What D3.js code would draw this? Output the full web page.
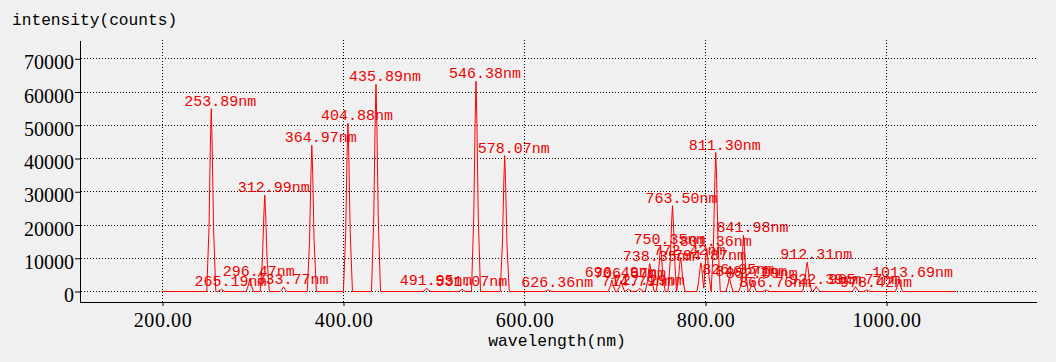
<!DOCTYPE html>
<html>
<head>
<meta charset="utf-8">
<script src="https://cdn.jsdelivr.net/npm/d3@7"></script>
<style>
  html, body { margin: 0; padding: 0; background: #f0f0f0; }
  svg { display: block; }
</style>
</head>
<body>
<div id="chart"></div>
<script>
// Peak labels
const peakNm = [253.89, 265.19, 296.47, 312.99, 333.77, 364.97, 404.88, 435.89, 491.95, 531.07,
  546.38, 578.07, 626.36, 696.49, 706.67, 714.79, 727.29, 738.35, 750.35, 763.50, 772.42,
  794.87, 801.36, 811.30, 826.35, 840.71, 841.98, 852.09, 866.76, 912.31, 922.39, 965.77,
  978.42, 1013.69];
const peakCounts = [55000, 700, 3900, 29000, 1400, 44000, 50600, 62300, 1000, 700,
  63300, 40900, 500, 3500, 3300, 800, 1000, 8400, 13400, 25800, 10200,
  8600, 12900, 41800, 4500, 3800, 16900, 3300, 500, 8800, 1500, 1500,
  500, 3600];
const peakLabels = peakNm.map(d => d.toFixed(2) + "nm");

// Spectrum trace [wavelength nm, counts]
const spectrum = [
  [200, 0], [248.9, 0], [251.4, 19250], [252.9, 44000], [253.89, 55000], [254.9, 44000], [256.4, 19250], [258.9, 0],
  [261.2, 0], [263.7, 350], [265.19, 700], [266.7, 350], [269.2, 0],
  [292.5, 0], [295, 1950], [296.47, 3900], [298, 1950], [300.5, 0],
  [308, 0], [310.5, 10150], [312, 23200], [312.99, 29000], [314, 23200], [315.5, 10150], [318, 0],
  [329.8, 0], [332.3, 700], [333.77, 1400], [335.3, 700], [337.8, 0],
  [360, 0], [362.5, 15400], [364, 35200], [364.97, 44000], [366, 35200], [367.5, 15400], [370, 0],
  [399.9, 0], [402.4, 17700], [403.9, 40500], [404.88, 50600], [405.9, 40500], [407.4, 17700], [409.9, 0],
  [430.9, 0], [433.4, 21800], [434.9, 49800], [435.89, 62300], [436.9, 49800], [438.4, 21800], [440.9, 0],
  [488, 0], [490.5, 500], [491.95, 1000], [493.5, 500], [496, 0],
  [527, 0], [529.5, 350], [531.07, 700], [532.6, 350], [535, 0],
  [541.4, 0], [543.9, 22150], [545.4, 50600], [546.38, 63300], [547.4, 50600], [548.9, 22150], [551.4, 0],
  [573.1, 0], [575.6, 14300], [577.1, 32700], [578.07, 40900], [579.1, 32700], [580.6, 14300], [583.1, 0],
  [622.4, 0], [624.9, 250], [626.36, 500], [627.9, 250], [630.4, 0],
  [692.5, 0], [695, 1750], [696.49, 3500], [698, 1750], [700.5, 0],
  [702.7, 0], [705.2, 1650], [706.67, 3300], [708.2, 1650], [710.7, 0],
  [713.3, 400], [714.79, 800], [716.3, 400], [718.8, 0],
  [723.3, 0], [725.8, 500], [727.29, 1000], [728.8, 500], [731.3, 0],
  [733.4, 0], [735.9, 2950], [737.4, 6700], [738.35, 8400], [739.4, 6700], [740.9, 2950], [743.4, 0],
  [745.4, 0], [747.9, 4700], [749.4, 10700], [750.35, 13400], [751.4, 10700], [752.9, 4700], [755.4, 0],
  [758.5, 0], [761, 9000], [762.5, 20600], [763.5, 25800], [764.5, 20600], [766, 9000], [768, 0],
  [770, 3570], [771.4, 8160], [772.42, 10200], [773.4, 8160], [774.9, 3570], [777.4, 0],
  [790.4, 0], [792.4, 3000], [793.9, 6900], [794.87, 8600], [795.9, 6900], [797.2, 3000], [798.1, 1000],
  [798.9, 4500], [800.4, 10300], [801.36, 12900], [802.4, 10300], [803.9, 4500], [806.2, 0],
  [808.8, 14600], [810.3, 33400], [811.3, 41800], [812.3, 33400], [813.8, 14600], [816.3, 0],
  [822.4, 0], [824.9, 2250], [826.35, 4500], [827.9, 2250], [830.4, 0],
  [836.8, 0], [839.2, 1900], [840.71, 3800], [841.2, 13500], [841.98, 16900], [843, 13500], [844.5, 5900], [847, 0],
  [848.1, 0], [850.6, 1650], [852.09, 3300], [853.6, 1650], [856.1, 0],
  [862.8, 0], [865.3, 250], [866.76, 500], [868.3, 250], [870.8, 0],
  [907.3, 0], [909.8, 3080], [911.3, 7040], [912.31, 8800], [913.3, 7040], [914.8, 3080], [917.3, 0],
  [918.4, 0], [920.9, 750], [922.39, 1500], [923.9, 750], [926.4, 0],
  [961.8, 0], [964.3, 750], [965.77, 1500], [967.3, 750], [969.8, 0],
  [974.4, 0], [976.9, 250], [978.42, 500], [979.9, 250], [982.4, 0],
  [1009.7, 0], [1012.2, 1800], [1013.69, 3600], [1015.2, 1800], [1017.7, 0],
  [1077, 0]
];

const xTicks = [200, 400, 600, 800, 1000];
const yTicks = [0, 10000, 20000, 30000, 40000, 50000, 60000, 70000];

const width = 1056;
const height = 362;

const x = d3.scaleLinear().domain([109.4, 1165.7]).range([80.5, 1036.5]);
const y = d3.scaleLinear().domain([-3308, 75500]).range([302.5, 40.5]);

const svg = d3.select("#chart")
  .append("svg")
  .attr("width", width)
  .attr("height", height)
  .style("background", "#f0f0f0");

// dotted grid
const grid = svg.append("g")
  .attr("stroke", "#000")
  .attr("stroke-width", 1)
  .attr("stroke-dasharray", "1,2");

grid.selectAll(".hg")
  .data(yTicks)
  .enter()
  .append("line")
  .attr("x1", 81)
  .attr("x2", 1036)
  .attr("y1", d => Math.floor(y(d)) + 0.5)
  .attr("y2", d => Math.floor(y(d)) + 0.5);

grid.selectAll(".vg")
  .data(xTicks)
  .enter()
  .append("line")
  .attr("x1", d => Math.floor(x(d)) + 0.5)
  .attr("x2", d => Math.floor(x(d)) + 0.5)
  .attr("y1", 40)
  .attr("y2", 302);

// axes
const xAxis = svg.append("g")
  .attr("transform", "translate(0,302)")
  .call(d3.axisBottom(x).tickValues(xTicks).tickFormat(d3.format(".2f")).tickSize(4).tickSizeOuter(0));

xAxis.selectAll("text")
  .attr("y", 25)
  .attr("dy", null)
  .style("font-family", "'Liberation Serif', serif")
  .style("font-size", "20px")
  .style("letter-spacing", "0.6px")
  .attr("fill", "#000");

const yAxis = svg.append("g")
  .attr("transform", "translate(80,0)")
  .call(d3.axisLeft(y).tickValues(yTicks).tickFormat(d3.format("d")).tickSize(5).tickSizeOuter(0));

yAxis.selectAll("text")
  .attr("x", -6)
  .attr("dy", null)
  .attr("y", 10)
  .style("font-family", "'Liberation Serif', serif")
  .style("font-size", "20px")
  .attr("fill", "#000");

svg.selectAll(".domain, .tick line").attr("stroke", "#000");

// spectrum
const line = d3.line()
  .x(d => x(d[0]))
  .y(d => y(d[1]));

svg.append("path")
  .datum(spectrum)
  .attr("fill", "none")
  .attr("stroke", "#ff0000")
  .attr("stroke-width", 1)
  .attr("d", line);

// peak labels
svg.selectAll(".peak")
  .data(peakNm)
  .enter()
  .append("text")
  .attr("class", "peak")
  .attr("x", d => x(d) - 27)
  .attr("y", (d, i) => y(peakCounts[i]) - 3)
  .style("font-family", "'Liberation Mono', monospace")
  .style("font-size", "15px")
  .attr("fill", "#ee0000")
  .text((d, i) => peakLabels[i]);

// axis titles
svg.append("text")
  .attr("x", 12)
  .attr("y", 25)
  .style("font-family", "'Liberation Mono', monospace")
  .style("font-size", "16.2px")
  .attr("fill", "#000")
  .text("intensity(counts)");

svg.append("text")
  .attr("x", 557)
  .attr("y", 346)
  .attr("text-anchor", "middle")
  .style("font-family", "'Liberation Mono', monospace")
  .style("font-size", "16.4px")
  .attr("fill", "#000")
  .text("wavelength(nm)");
</script>
</body>
</html>
